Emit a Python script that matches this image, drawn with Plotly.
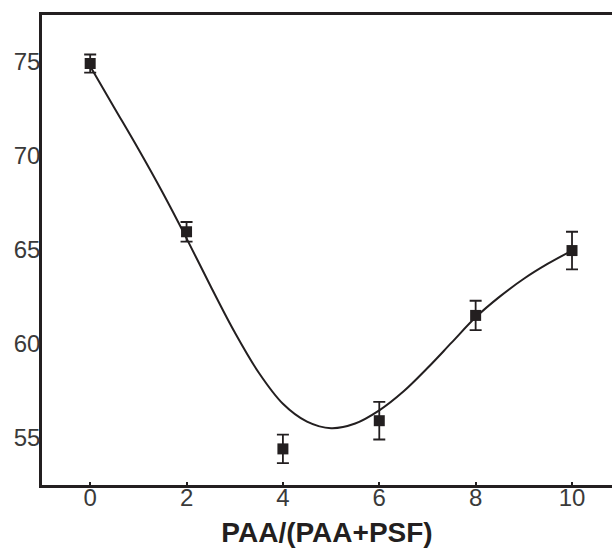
import plotly.graph_objects as go

# Measured data (x = PAA/(PAA+PSF))
x_pts = [0, 2, 4, 6, 8, 10]
y_pts = [74.9, 65.95, 54.4, 55.9, 61.5, 64.95]
y_err = [0.48, 0.52, 0.76, 1.0, 0.78, 1.0]

# Fitted smooth curve
x_fit = [0, 0.5, 1, 1.5, 2, 2.5, 3, 3.5, 4, 4.5, 5, 5.5, 6, 6.5, 7, 7.5, 8, 8.5, 9, 9.5, 10]
y_fit = [74.75, 72.55, 70.35, 68.05, 65.6, 63.05, 60.6, 58.45, 56.8, 55.85, 55.5, 55.75, 56.45,
         57.45, 58.7, 60.05, 61.4, 62.5, 63.45, 64.25, 64.95]

x_ticks = [0, 2, 4, 6, 8, 10]
y_ticks = [55, 60, 65, 70, 75]

ink = "#231f20"

fig = go.Figure()
fig.add_trace(go.Scatter(
    x=x_fit, y=y_fit, mode="lines",
    line=dict(color=ink, width=2, shape="spline", smoothing=1.0),
    showlegend=False, hoverinfo="skip"))
fig.add_trace(go.Scatter(
    x=x_pts, y=y_pts, mode="markers",
    marker=dict(symbol="square", size=11, color=ink),
    error_y=dict(type="data", array=y_err, visible=True, color=ink, thickness=1.8, width=6),
    showlegend=False))

tick_font = dict(family="Liberation Sans, Arial, sans-serif", size=24, color="#3a3a3a")

fig.update_layout(
    width=612, height=548,
    margin=dict(l=42, r=0, t=15, b=63),
    paper_bgcolor="white", plot_bgcolor="white",
    xaxis=dict(
        range=[-1.0, 10.83], tickvals=x_ticks, ticktext=[str(v) for v in x_ticks],
        showgrid=False, zeroline=False, showline=True, linecolor=ink, linewidth=2.5,
        mirror=True, ticks="inside", ticklen=3, tickwidth=2, tickcolor=ink,
        tickfont=tick_font, ticklabelstandoff=-11, automargin=False,
        title=dict(text="<b>PAA/(PAA+PSF)</b>", standoff=22,
                   font=dict(family="Liberation Sans, Arial, sans-serif", size=28, color=ink)),
    ),
    yaxis=dict(
        range=[52.48, 77.48], tickvals=y_ticks, ticktext=[str(v) for v in y_ticks],
        showgrid=False, zeroline=False, showline=True, linecolor=ink, linewidth=2.5,
        ticks="", tickfont=tick_font, ticklabelstandoff=-6, automargin=False,
    ),
)

fig.write_html("out.html")
